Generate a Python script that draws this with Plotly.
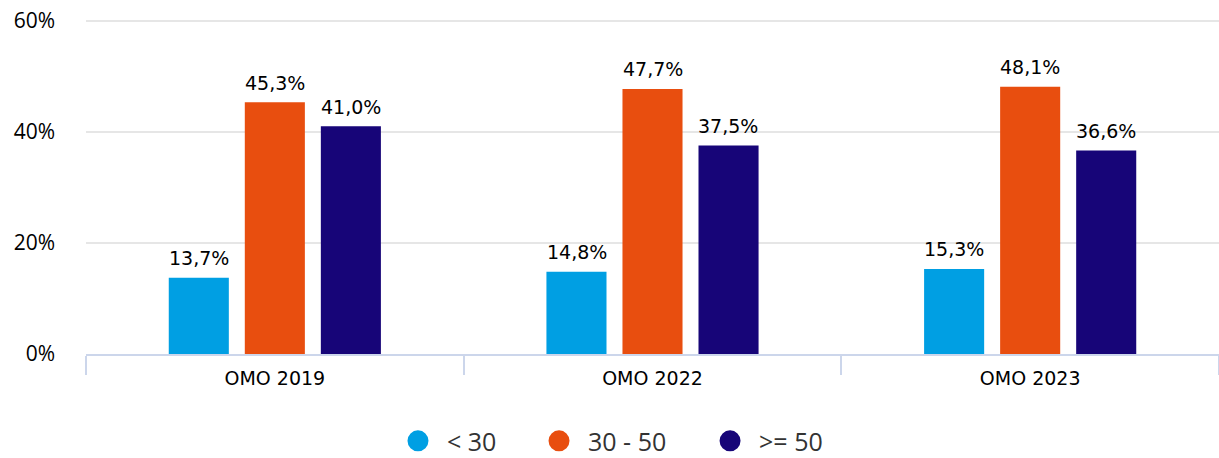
import plotly.graph_objects as go

categories = ["OMO 2019", "OMO 2022", "OMO 2023"]
series_names = ["< 30", "30 - 50", ">= 50"]
values_lt30 = [13.7, 14.8, 15.3]
values_30_50 = [45.3, 47.7, 48.1]
values_ge50 = [41.0, 37.5, 36.6]
colors = ["#009FE3", "#E84E0F", "#170578"]

series_values = [values_lt30, values_30_50, values_ge50]
label_xshift = [-75.7, 0, 75.7]
legend_ids = ["legend", "legend2", "legend3"]
legend_x = [0.3191, 0.4348, 0.5751]

fig = go.Figure()
for name, vals, col in zip(series_names, series_values, colors):
    fig.add_trace(go.Bar(
        x=categories, y=vals, name=name, marker=dict(color=col, line=dict(width=0)),
        showlegend=False,
    ))
for name, vals, dx in zip(series_names, series_values, label_xshift):
    for c, v in zip(categories, vals):
        fig.add_annotation(x=c, y=v, text=f"{v:.1f}%".replace(".", ","), showarrow=False,
                           xshift=dx, yshift=19.5, yanchor="middle",
                           font=dict(family="DejaVu Sans", size=19, color="#000000"))
for name, col, lid in zip(series_names, colors, legend_ids):
    fig.add_trace(go.Scatter(
        x=[None], y=[None], mode="markers", name=name, legend=lid,
        marker=dict(symbol="circle", size=16, color=col, line=dict(color=col, width=7)),
    ))

legend_common = dict(orientation="h", yref="container", y=0.037, yanchor="middle",
                     xref="container", xanchor="left", itemwidth=48,
                     font=dict(family="Open Sans", size=25, color="#333333"),
                     itemsizing="trace", bgcolor="rgba(0,0,0,0)")
layout_legends = {}
for lid, lx in zip(legend_ids, legend_x):
    layout_legends[lid] = dict(legend_common, x=lx)

fig.update_layout(
    width=1219, height=458,
    margin=dict(l=86, r=0, t=15.45, b=104, autoexpand=False),
    paper_bgcolor="white", plot_bgcolor="white",
    barmode="group", bargap=0.396, bargroupgap=0.21,
    font=dict(family="DejaVu Sans", size=19, color="#000000"),
    xaxis=dict(type="category", showline=True, linecolor="#ccd6eb", linewidth=2,
               ticks="outside", tickson="boundaries", ticklen=19, tickcolor="#ccd6eb",
               tickwidth=1.5, ticklabelstandoff=6,
               showgrid=False, tickfont=dict(family="DejaVu Sans", size=19, color="#000000")),
    yaxis=dict(range=[0, 61], tickvals=[0, 20, 40, 60], ticktext=["0%", "20%", "40%", "60%"],
               showgrid=True, gridcolor="#e6e6e6",
               gridwidth=1.5, zeroline=False, showline=False,
               tickfont=dict(family="Open Sans", size=21, color="#000000"), ticklabelstandoff=30),
    **layout_legends,
)
fig.write_html("out.html", config={"displayModeBar": False},
               post_script="document.body.style.margin='0';")
